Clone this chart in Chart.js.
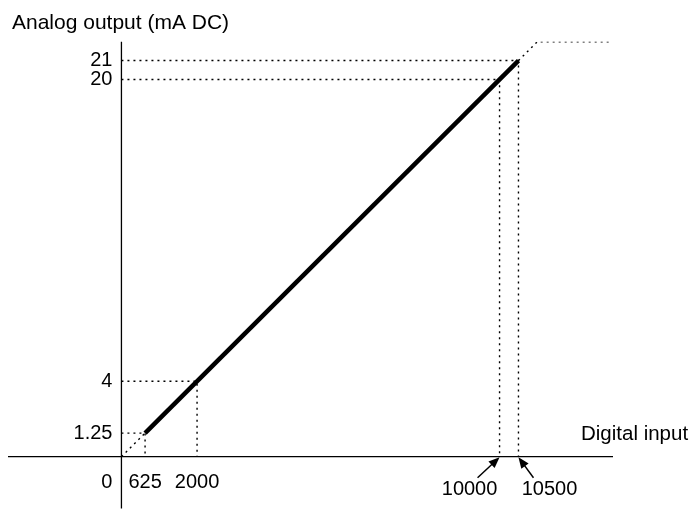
<!DOCTYPE html>
<html>
<head>
<meta charset="utf-8">
<script src="https://cdn.jsdelivr.net/npm/chart.js@4"></script>
<style>
  body { margin: 0; background: #fff; }
  #wrap { width: 693px; height: 511px; }
</style>
</head>
<body>
<div id="wrap"><canvas id="chart" width="693" height="511"></canvas></div>
<script>
// data
const xTicks = [625, 2000, 10000, 10500];
const yTicks = [1.25, 4, 20, 21];
const lineX = [625, 10500];
const lineY = [1.25, 21];
const lowX = [0, 625];
const lowY = [0, 1.25];
const highX = [10500, 11000, 12900];
const highY = [21, 22, 22];

const xTitle = 'Digital input';
const yTitle = 'Analog output (mA DC)';
const FONT = '"Liberation Sans", Arial, sans-serif';

const pts = (xs, ys) => xs.map((x, i) => ({ x: x, y: ys[i] }));

const dotted = {
    borderColor: '#000',
    borderWidth: 1.4,
    borderDash: [2, 4],
    pointRadius: 0,
    showLine: true,
    fill: false
};

// dotted guides from each point to both axes
const guides = xTicks.map((x, i) => ({
    ...dotted,
    data: [{ x: 0, y: yTicks[i] }, { x: x, y: yTicks[i] }, { x: x, y: 0 }]
}));

function arrow(ctx, x1, y1, x2, y2) {
    const a = Math.atan2(y2 - y1, x2 - x1);
    const len = 11, w = 4.5;
    ctx.beginPath();
    ctx.moveTo(x1, y1);
    ctx.lineTo(x2 - Math.cos(a) * len * 0.8, y2 - Math.sin(a) * len * 0.8);
    ctx.stroke();
    ctx.beginPath();
    ctx.moveTo(x2, y2);
    ctx.lineTo(x2 - Math.cos(a) * len + Math.sin(a) * w, y2 - Math.sin(a) * len - Math.cos(a) * w);
    ctx.lineTo(x2 - Math.cos(a) * len - Math.sin(a) * w, y2 - Math.sin(a) * len + Math.cos(a) * w);
    ctx.closePath();
    ctx.fill();
}

const axesPlugin = {
    id: 'axesPlugin',
    afterDatasetsDraw(chart) {
        const ctx = chart.ctx;
        const xs = chart.scales.x, ys = chart.scales.y;
        const area = chart.chartArea;
        const x0 = xs.getPixelForValue(0), y0 = ys.getPixelForValue(0);
        ctx.save();
        ctx.strokeStyle = '#000';
        ctx.fillStyle = '#000';
        ctx.lineWidth = 1.3;
        // axis lines
        ctx.beginPath();
        ctx.moveTo(area.left, y0);
        ctx.lineTo(area.right, y0);
        ctx.moveTo(x0, area.top);
        ctx.lineTo(x0, area.bottom);
        ctx.stroke();

        ctx.font = '20px ' + FONT;
        // y tick labels
        ctx.textAlign = 'right';
        ctx.textBaseline = 'middle';
        yTicks.forEach(v => ctx.fillText(String(v), x0 - 9, ys.getPixelForValue(v)));
        ctx.fillText('0', x0 - 9, y0 + 26);

        // x tick labels
        ctx.textAlign = 'center';
        ctx.fillText(String(xTicks[0]), xs.getPixelForValue(xTicks[0]), y0 + 26);
        ctx.fillText(String(xTicks[1]), xs.getPixelForValue(xTicks[1]), y0 + 26);
        const p3 = xs.getPixelForValue(xTicks[2]);
        const p4 = xs.getPixelForValue(xTicks[3]);
        ctx.fillText(String(xTicks[2]), p3 - 30, y0 + 33);
        ctx.fillText(String(xTicks[3]), p4 + 31, y0 + 33);
        ctx.lineWidth = 1.5;
        arrow(ctx, p3 - 22, y0 + 21, p3, y0 + 0.5);
        arrow(ctx, p4 + 15, y0 + 21, p4, y0 + 0.5);

        // titles
        ctx.font = '21px ' + FONT;
        ctx.textAlign = 'left';
        ctx.textBaseline = 'alphabetic';
        ctx.fillText(yTitle, 12, 29);
        ctx.font = '20.5px ' + FONT;
        ctx.fillText(xTitle, 581, 440);
        ctx.restore();
    }
};

new Chart(document.getElementById('chart'), {
    type: 'scatter',
    data: {
        datasets: [
            ...guides,
            { ...dotted, data: pts(lowX, lowY) },
            { ...dotted, data: pts(highX, highY) },
            {
                data: pts(lineX, lineY),
                borderColor: '#000',
                borderWidth: 4.5,
                pointRadius: 0,
                showLine: true,
                borderCapStyle: 'butt'
            }
        ]
    },
    options: {
        responsive: false,
        animation: false,
        layout: { padding: { left: 8, right: 80, top: 41.7, bottom: 2.4 } },
        scales: {
            x: { type: 'linear', min: -3000, max: 13000, display: false },
            y: { type: 'linear', min: -2.75, max: 22, display: false }
        },
        plugins: {
            legend: { display: false },
            tooltip: { enabled: false }
        }
    },
    plugins: [axesPlugin]
});
</script>
</body>
</html>
